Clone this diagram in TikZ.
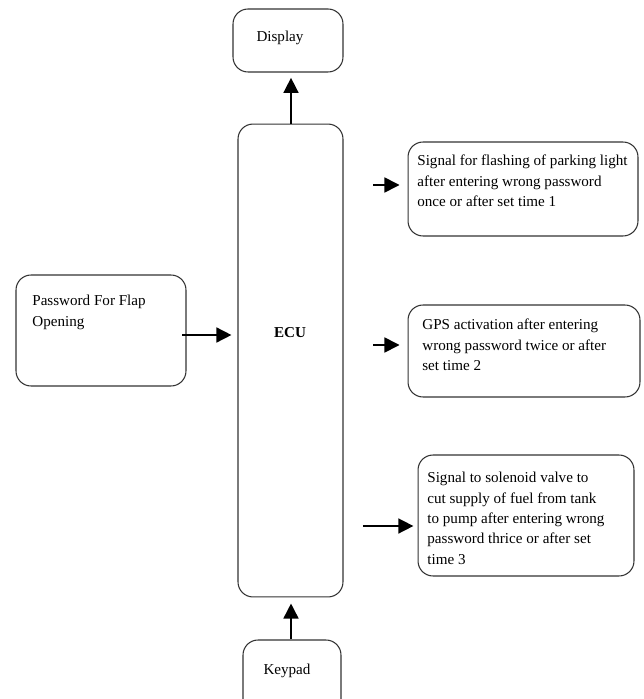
\documentclass[tikz,border=0pt]{standalone}
\usepackage{fontspec}
\setmainfont{Liberation Serif}
\usetikzlibrary{arrows.meta}

\tikzset{
  box/.style={draw=black!80, line width=0.6pt, rounded corners=0.3cm, inner sep=0pt},
  txt/.style={font=\fontsize{8.6}{11.6}\selectfont, align=left, inner sep=0pt, anchor=north west},
  arr/.style={line width=1.4pt, -{Triangle[length=8.6pt,width=8.4pt]}}
}

\begin{document}
\begin{tikzpicture}[x=0.02cm, y=-0.02cm]
	\useasboundingbox (0,0) rectangle (643,699);
	% boxes
	\node[box, minimum width=2.2cm, minimum height=1.26cm] (disp) at (288,40.5) {};
	\node[box, minimum width=2.1cm, minimum height=9.46cm] (ecu) at (290.5,360.5) {};
	\node[box, minimum width=3.4cm, minimum height=2.22cm] (pwd) at (101,330.5) {};
	\node[box, minimum width=4.6cm, minimum height=1.88cm] (flash) at (523,189) {};
	\node[box, minimum width=4.64cm, minimum height=1.84cm] (gps) at (524,351) {};
	\node[box, minimum width=4.32cm, minimum height=2.42cm] (fuel) at (526,515.5) {};
	\node[box, minimum width=1.96cm, minimum height=1.5cm] (keypad) at (292,677.5) {};
	% texts
	\node[txt, anchor=center] (disptxt) at (280,38) {Display};
	\node[txt, anchor=center, font=\fontsize{8.6}{11.6}\selectfont\bfseries] (ecutxt) at (290,333) {ECU};
	\node[txt] (pwdtxt) at (32,295) {Password For Flap\\Opening};
	\node[txt] (flashtxt) at (417,155) {Signal for flashing of parking light\\after entering wrong password\\once or after set time 1};
	\node[txt] (gpstxt) at (422,319) {GPS activation after entering\\wrong password twice or after\\set time 2};
	\node[txt] (fueltxt) at (427,472) {Signal to solenoid valve to\\cut supply of fuel from tank\\to pump after entering wrong\\password thrice or after set\\time 3};
	\node[txt, anchor=center] (keytxt) at (287,671) {Keypad};
	% arrows
	\draw[arr, shorten >=3pt] (ecu.north -| 291,0) -- (disp.south -| 291,0);
	\draw[arr, shorten <=-2.3pt, shorten >=3.4pt] (pwd.east |- 0,335) -- (ecu.west |- 0,335);
	\draw[arr, shorten <=17pt, shorten >=4.5pt] (ecu.east |- 0,185) -- (flash.west |- 0,185);
	\draw[arr, shorten <=17pt, shorten >=4.5pt] (ecu.east |- 0,345) -- (gps.west |- 0,345);
	\draw[arr, shorten <=11pt, shorten >=2.3pt] (ecu.east |- 0,526) -- (fuel.west |- 0,526);
	\draw[arr, shorten >=3.4pt] (keypad.north -| 291,0) -- (ecu.south -| 291,0);
\end{tikzpicture}
\end{document}
